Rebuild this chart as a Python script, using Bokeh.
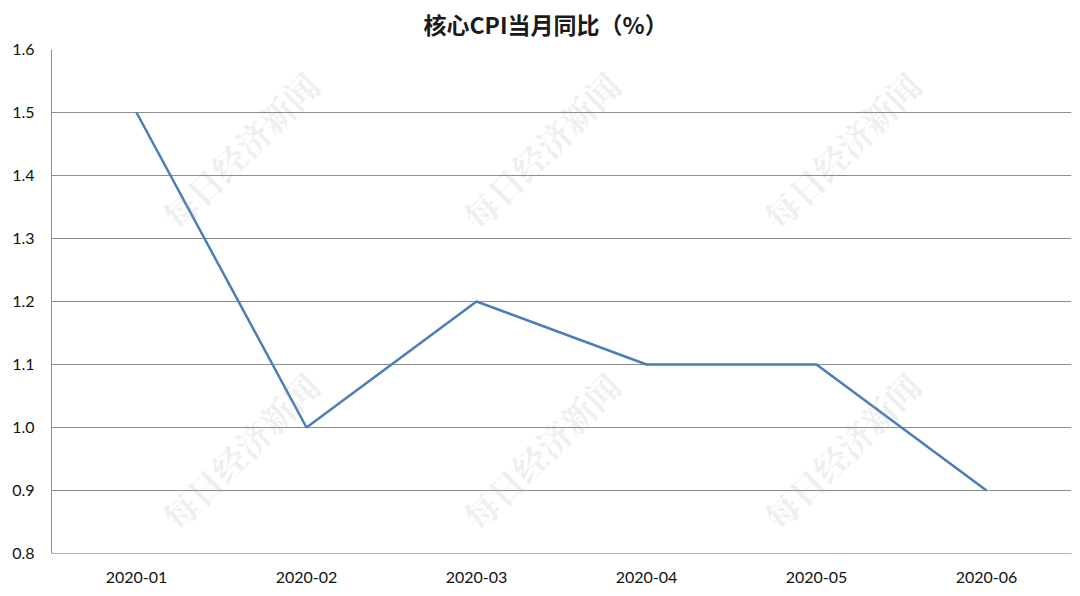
from bokeh.plotting import figure
from bokeh.models import FixedTicker, Label, NumeralTickFormatter, Range1d
from bokeh.embed import file_html
from bokeh.resources import INLINE

months = ["2020-01", "2020-02", "2020-03", "2020-04", "2020-05", "2020-06"]
core_cpi = [1.5, 1.0, 1.2, 1.1, 1.1, 0.9]
y_ticks = [0.8, 0.9, 1.0, 1.1, 1.2, 1.3, 1.4, 1.5, 1.6]
title_text = "核心CPI当月同比（%）"
watermark = "每日经济新闻"
wm_x = [1.11, 2.88, 4.65]
wm_y = [1.44, 0.963]

p = figure(
    x_range=months,
    y_range=Range1d(0.8, 1.6),
    frame_width=1020,
    frame_height=504,
    output_backend="svg",
    toolbar_location=None,
    min_border_left=51,
    min_border_right=9,
    min_border_top=0,
    min_border_bottom=0,
)
p.x_range.range_padding = 0

p.title.text = title_text
p.title.align = "left"
p.title.vertical_align = "top"
p.title.offset = 372
p.title.text_font = "Noto Sans CJK SC"
p.title.text_font_size = "23px"
p.title.text_font_style = "bold"
p.title.text_color = "#1a1a1a"
p.title.standoff = 13

p.outline_line_color = None
p.background_fill_color = "white"
p.border_fill_color = "white"

# watermarks
for wy in wm_y:
    for wx in wm_x:
        p.add_layout(Label(x=wx, y=wy, text=watermark, angle=0.785,
                           text_align="center", text_baseline="middle",
                           text_font="Noto Serif CJK SC", text_font_style="bold",
                           text_font_size="34px", text_color="#9a9a9a",
                           text_alpha=0.17))

p.line(months, core_cpi, line_color="#4a7ebb", line_width=2.5)

p.yaxis.ticker = FixedTicker(ticks=y_ticks)
p.yaxis.formatter = NumeralTickFormatter(format="0.0")
p.ygrid.grid_line_color = "#8e8e8e"
p.ygrid.grid_line_width = 1
p.xgrid.grid_line_color = None

for ax in (p.xaxis, p.yaxis):
    ax.major_tick_line_color = None
    ax.minor_tick_line_color = None
    ax.major_label_text_font = "Lato"
    ax.major_label_text_font_size = "16px"
    ax.major_label_text_color = "#111111"
p.yaxis.axis_line_color = "#8e8e8e"
p.xaxis.axis_line_color = "#b8b8b8"
p.yaxis.major_label_standoff = 11
p.xaxis.major_label_standoff = 12

open("out.html", "w").write(file_html(p, INLINE))
